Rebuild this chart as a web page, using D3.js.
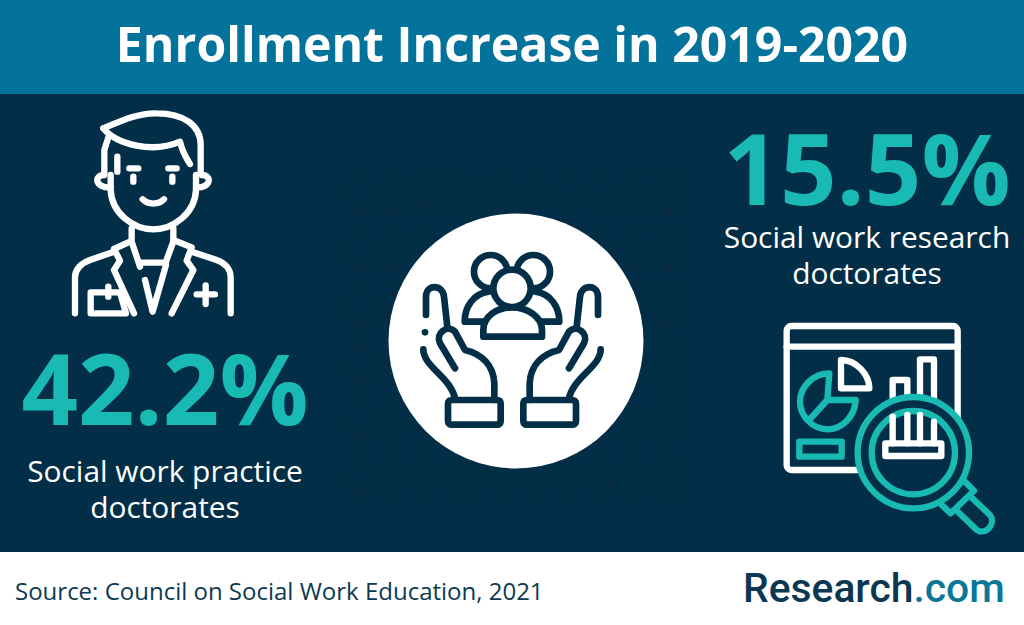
<!DOCTYPE html>
<html><head><meta charset="utf-8">
<script src="https://cdnjs.cloudflare.com/ajax/libs/d3/7.8.5/d3.min.js"></script>
<style>html,body{margin:0;padding:0;background:#fff}svg{display:block}text{font-family:"Open Sans",sans-serif}</style>
</head><body><svg id="c" width="1024" height="625"></svg>
<script>
const title = "Enrollment Increase in 2019-2020";
const categories = ["Social work practice doctorates", "Social work research doctorates"];
const values = [42.2, 15.5];
const labelLines = [["Social work practice","doctorates"],["Social work research","doctorates"]];
const source = "Source: Council on Social Work Education, 2021";

const BG="#022f47", HEAD="#04739b", TEAL="#19b9b4", WHITE="#ffffff", PERSON="#0a2a3e";
const svg=d3.select("#c");
const rect=(x,y,w,h,f)=>svg.append("rect").attr("x",x).attr("y",y).attr("width",w).attr("height",h).attr("fill",f);
rect(0,0,1024,625,WHITE); rect(0,0,1024,94,HEAD); rect(0,94,1024,458,BG);

svg.append("text").attr("x",512).attr("y",61.5).attr("text-anchor","middle").attr("font-weight",700)
  .attr("font-size",48.2).attr("fill",WHITE).text(title);

// Background figures
const cols=d3.range(10), rows=d3.range(6);
const px=d3.scaleLinear().domain([0,9]).range([361.7,669.3]);
const py=d3.scaleLinear().domain([0,5]).range([173,456.5]);
const personPath="M-5 8 L5 8 C9 8 11 11 11 15 L11 31 L8 31 L8 15 M8 20 L7 42 L1 42 L0 26 L-1 42 L-7 42 L-8 20 M-8 15 L-8 31 L-11 31 L-11 15 C-11 11 -9 8 -5 8";
const pg=svg.append("g").attr("fill","none").attr("stroke",PERSON).attr("stroke-width",1.15);
rows.forEach(r=>cols.forEach(c=>{
  const g=pg.append("g").attr("transform",`translate(${px(c)},${py(r)})`);
  g.append("circle").attr("r",5.5);
  g.append("path").attr("d",personPath);
}));
svg.append("circle").attr("cx",516).attr("cy",341).attr("r",127.5).attr("fill",WHITE);

function icon(x,y,sw){return svg.append("g").attr("transform",`translate(${x},${y}) scale(${1/3})`)
  .attr("fill","none").attr("stroke-width",sw).attr("stroke-linecap","round").attr("stroke-linejoin","round");}
const P=(g,d,s,f)=>g.append("path").attr("d",d).attr("stroke",s).attr("fill",f||"none");
const C=(g,x,y,r,s,f)=>g.append("circle").attr("cx",x).attr("cy",y).attr("r",r).attr("stroke",s).attr("fill",f||"none");

// Doctor icon
const d=icon(40,100,19);
[
"M190 85 C250 60 300 38 350 40 C430 40 482 75 482 135 L482 218",
"M190 85 C230 135 340 160 420 125 C428 160 440 175 450 192",
"M205 112 L193 150 L193 218 M232 170 L232 215",
"M193 225 C160 225 165 265 212 262 M485 225 C518 225 513 265 468 262",
"M212 225 L212 270 C215 340 280 388 340 388 C400 388 465 340 468 270 L468 225",
"M268 205 L295 205 M385 205 L410 205 M280 230 L280 245 M397 230 L397 245",
"M308 298 C325 315 355 315 372 298",
"M275 385 L275 425 L300 500 M300 488 L378 488 M400 385 L400 425 L376 490",
"M270 425 L222 447 L240 482 L222 510 L282 640",
"M315 540 L338 635 L378 495",
"M400 420 L455 442 L440 482 L460 510 L395 640",
"M222 455 L150 480 C122 490 105 510 105 532 L105 640",
"M455 455 L530 480 C558 490 572 510 572 532 L572 640",
"M152 577 L240 577 L258 640 L152 640 Z M205 560 L205 590",
"M470 583 L525 583 M497 556 L497 612"
].forEach(p=>P(d,p,WHITE));

// Centre icon
const m=icon(340,150,20);
C(m,452,365,50,BG,WHITE); C(m,580,365,50,BG,WHITE);
P(m,"M445 515 L374 515 C374 470 400 432 445 425",BG,WHITE);
P(m,"M587 515 L658 515 C658 470 632 432 587 425",BG,WHITE);
P(m,"M430 560 L430 540 C430 500 470 472 516 472 C562 472 606 500 606 540 L606 560 Z",BG,WHITE);
C(m,516,415,56,BG,WHITE);
const hand=[
"M258 495 L258 440 C258 402 308 402 312 440 L322 530",
"M345 655 L300 580 C285 550 322 522 345 545 L375 600 C425 612 460 645 463 700 L463 750",
"M250 598 C250 650 330 680 345 745",
"M338 750 L470 750 Q482 750 482 762 L482 812 Q482 824 470 824 L338 824 Q324 824 324 812 L324 762 Q324 750 338 750 Z"];
hand.forEach(p=>{P(m,p,BG); P(m,p,BG).attr("transform","translate(1032,0) scale(-1,1)");});
m.append("circle").attr("cx",255).attr("cy",547).attr("r",10).attr("fill",BG).attr("stroke","none");

// Chart + magnifier icon
const a=icon(770,310,19);
a.append("rect").attr("x",50).attr("y",48).attr("width",513).attr("height",432).attr("rx",14).attr("stroke",WHITE);
P(a,"M50 110 L563 110",WHITE);
P(a,"M213 150 C260 150 298 195 298 235 L213 235 Z",WHITE);
P(a,"M178 190 C130 190 90 230 90 275 C90 320 130 358 172 358 C215 358 255 320 257 270 L172 270 Z M172 270 L122 325",TEAL);
a.append("rect").attr("x",88).attr("y",395).attr("width",127).attr("height",45).attr("stroke",TEAL);
P(a,"M368 270 L368 210 L412 210 L412 270 M450 270 L450 148 L492 148 L492 270",WHITE);
C(a,430,428,167,TEAL,BG);
C(a,430,428,125,TEAL,BG);
P(a,"M368 320 L368 400 M412 315 L412 400 M450 315 L450 400 M492 335 L492 400",WHITE);
a.append("rect").attr("x",346).attr("y",400).attr("width",168).attr("height",38).attr("stroke",WHITE);
P(a,"M582 512 L612 542 L542 610 L512 582",TEAL);
P(a,"M600 558 L660 615 C682 645 640 682 615 655 L558 600",TEAL);

// Figures
const pos=[{x:165,y:424.5,ly:[482,518]},{x:867,y:205,ly:[248,284]}];
const grp=svg.append("g").selectAll("g").data(values).join("g");
grp.append("text").attr("x",(v,i)=>pos[i].x).attr("y",(v,i)=>pos[i].y)
  .attr("text-anchor","middle").attr("font-weight",700).attr("font-size",99).attr("fill",TEAL)
  .text(v=>d3.format(".1f")(v)+"%");
grp.each(function(v,i){
  d3.select(this).selectAll("text.l").data(labelLines[i]).join("text").attr("class","l")
   .attr("x",pos[i].x).attr("y",(s,j)=>pos[i].ly[j]).attr("text-anchor","middle")
   .attr("font-size",29.9).attr("fill",WHITE).text(s=>s);
});

// Footer
svg.append("text").attr("x",15).attr("y",600).attr("font-size",24).attr("fill","#0d3a52").text(source);
const brand=svg.append("text").attr("x",743).attr("y",602).attr("font-size",40.8).attr("font-weight",500)
  .style("font-family","Roboto,sans-serif").attr("fill","#0b3850");
brand.append("tspan").text("Research");
brand.append("tspan").attr("fill","#0b7797").text(".com");
</script></body></html>
